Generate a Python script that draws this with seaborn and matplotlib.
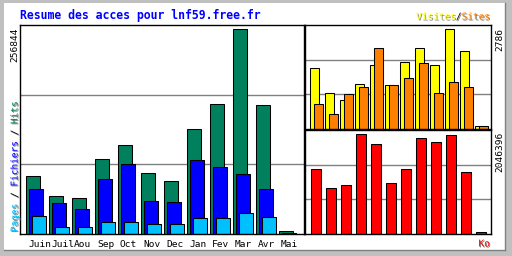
import numpy as np
import pandas as pd
import matplotlib
matplotlib.use("Agg")
import matplotlib.pyplot as plt
import matplotlib.patheffects as pe
from matplotlib.patches import Rectangle
import seaborn as sns

# ---- data ----
months = ["Juin", "Juil", "Aou", "Sep", "Oct", "Nov", "Dec", "Jan", "Fev", "Mar", "Avr", "Mai"]
hits = [72900, 47600, 45100, 94400, 112000, 76700, 66600, 132300, 162600, 256844, 161300, 4200]
files = [56000, 38800, 31200, 69100, 88100, 41300, 40000, 93100, 84300, 75400, 56500, 1300]
pages = [22400, 8500, 8500, 14800, 14800, 12300, 12300, 19800, 19800, 26200, 21100, 600]
visits = [1706, 995, 824, 1260, 1800, 1222, 1885, 2274, 1791, 2786, 2189, 85]
sites = [711, 426, 967, 1166, 2274, 1222, 1422, 1848, 995, 1308, 1166, 85]
kbytes = [1338600, 943000, 1005500, 2046396, 1838200, 1047100, 1338600, 1963100, 1879900, 2025600, 1276100, 41600]

title = "Resume des acces pour lnf59.free.fr"

C_HITS, C_FILES, C_PAGES = "#00805c", "#0000ff", "#00c0ff"
C_VISITS, C_SITES, C_KB = "#ffff00", "#ff8000", "#ff0000"

W, H = 512, 256
fig = plt.figure(figsize=(W / 100, H / 100), dpi=100)
fig.patch.set_facecolor("#c0c0c0")
fig.patches.append(Rectangle((4 / W, 1 - 250 / H), 501 / W, 247 / H, transform=fig.transFigure,
                             facecolor="white", edgecolor="none", zorder=-5))
fig.add_artist(plt.Line2D([505 / W, 505 / W], [1 - 3 / H, 1 - 250 / H], color="#808080", lw=1.0,
                          transform=fig.transFigure, zorder=-4))
fig.add_artist(plt.Line2D([4 / W, 505 / W], [1 - 250 / H, 1 - 250 / H], color="#808080", lw=1.0,
                          transform=fig.transFigure, zorder=-4))


def px_axes(l, t, r, b):
    ax = fig.add_axes([l / W, 1 - b / H, (r - l) / W, (b - t) / H])
    ax.set_facecolor("white")
    for s in ax.spines.values():
        s.set_color("black")
        s.set_linewidth(1.0)
    ax.set_axisbelow(True)
    return ax


idx = np.arange(len(months))
mono = "DejaVu Sans Mono"
FS = 6.8


def bars(ax, values, offset, width, color):
    df = pd.DataFrame({"x": idx + offset, "v": values})
    sns.barplot(data=df, x="x", y="v", native_scale=True, orient="x", width=width,
                color=color, saturation=1, edgecolor="black", linewidth=0.75,
                errorbar=None, ax=ax)


# ---- main panel: hits / files / pages ----
ax1 = px_axes(20, 25, 304, 234)
bars(ax1, hits, 13 / 23, 14 / 23, C_HITS)
bars(ax1, files, 16 / 23, 14 / 23, C_FILES)
bars(ax1, pages, 19 / 23, 14 / 23, C_PAGES)
ax1.set_xlim(0, 284 / 23)
top1 = max(hits) * 1.021
ax1.set_ylim(0, top1)
ax1.set_yticks([top1 / 3, 2 * top1 / 3])
ax1.yaxis.grid(True, color="#808080", lw=1.0)
ax1.set_yticklabels([])
ax1.tick_params(axis="y", length=0)
ax1.set_xticks(idx + 8 / 23)
ax1.set_xticklabels(months, ha="left", fontsize=FS, family=mono, color="black")
ax1.tick_params(axis="x", length=0, pad=4.5)
ax1.set_xlabel("")
ax1.set_ylabel("")

# ---- top right: visits / sites ----
ax2 = px_axes(305, 25, 491, 129)
bars(ax2, visits, 9.5 / 15, 9 / 15, C_VISITS)
bars(ax2, sites, 13.5 / 15, 9 / 15, C_SITES)
ax2.set_xlim(0, 186 / 15)
top2 = max(visits) * 1.043
ax2.set_ylim(0, top2)
ax2.set_yticks([top2 / 3, 2 * top2 / 3])
ax2.yaxis.grid(True, color="#808080", lw=1.0)
ax2.set_yticklabels([])
ax2.set_xticks([])
ax2.tick_params(length=0)
ax2.set_xlabel("")
ax2.set_ylabel("")

# ---- bottom right: kbytes ----
ax3 = px_axes(305, 130, 491, 234)
bars(ax3, kbytes, 11 / 15, 10 / 15, C_KB)
ax3.set_xlim(0, 186 / 15)
top3 = max(kbytes) * 1.04
ax3.set_ylim(0, top3)
ax3.set_yticks([top3 / 3, 2 * top3 / 3])
ax3.yaxis.grid(True, color="#808080", lw=1.0)
ax3.set_yticklabels([])
ax3.set_xticks([])
ax3.tick_params(length=0)
ax3.set_xlabel("")
ax3.set_ylabel("")

# ---- texts ----
shadow = [pe.SimplePatchShadow(offset=(0.7, -0.7), shadow_rgbFace="#808080", alpha=1.0), pe.Normal()]


def ftext(x, y, s, **kw):
    kw.setdefault("family", mono)
    kw.setdefault("fontsize", FS)
    return fig.text(x / W, 1 - y / H, s, **kw)


ftext(20, 15, title, color="#0000ff", fontweight="bold", fontsize=8.3, ha="left", va="center")

# right legend: Visites / Sites (right aligned at x=490)
adv = FS / 72 * 100 * 0.602
leg = [("Visites", C_VISITS, 0), ("/", "black", 7), ("Sites", C_SITES, 8)]
x0 = 490 - 13 * adv
for s, c, k in leg:
    ftext(x0 + k * adv, 17, s, color=c, ha="left", va="center", path_effects=shadow)

# left vertical legend: Pages / Fichiers / Hits
vleg = [("Pages", C_PAGES, 0), ("/", "black", 6), ("Fichiers", C_FILES, 8), ("/", "black", 17),
        ("Hits", C_HITS, 19)]
for s, c, k in vleg:
    ftext(15, 232 - k * adv, s, color=c, rotation=90, ha="center", va="bottom", path_effects=shadow)

ftext(15, 27, f"{max(hits)}", color="black", rotation=90, ha="center", va="top")
ftext(500, 28, f"{max(visits)}", color="black", rotation=90, ha="center", va="top")
ftext(500, 132, f"{max(kbytes)}", color="black", rotation=90, ha="center", va="top")
ftext(490, 244, "Ko", color=C_KB, ha="right", va="center", path_effects=shadow)

fig.savefig("out.png", dpi=100, facecolor=fig.get_facecolor())
